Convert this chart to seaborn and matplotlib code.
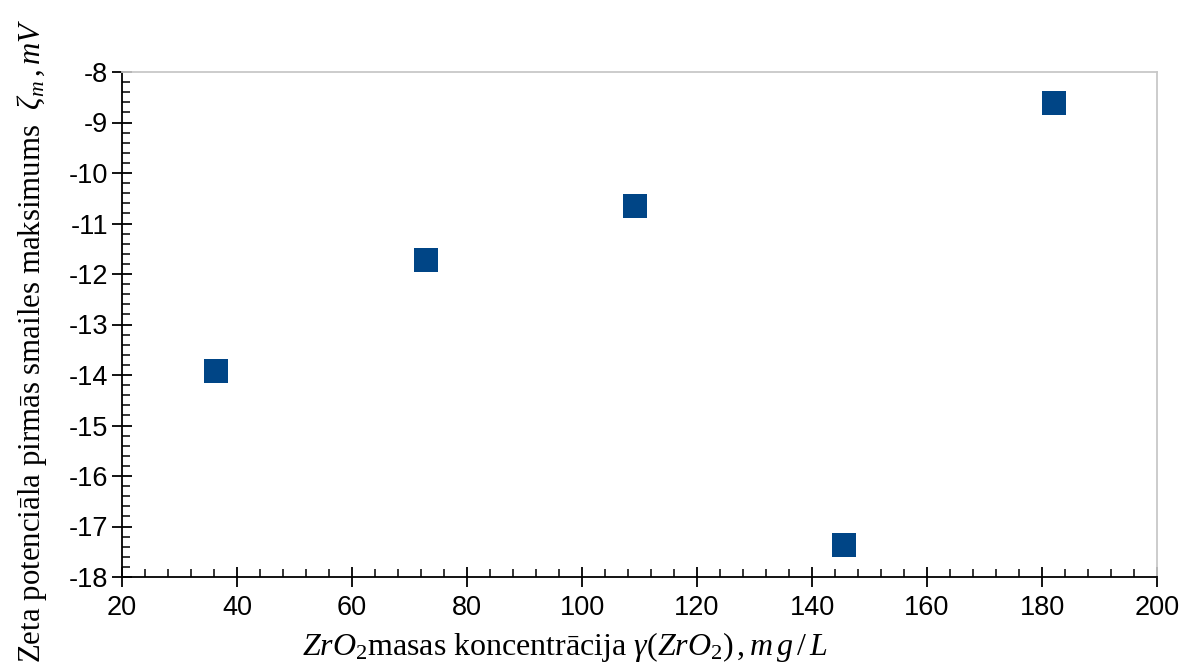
import matplotlib
matplotlib.use("Agg")
import matplotlib.pyplot as plt
import seaborn as sns
import pandas as pd
from matplotlib.ticker import MultipleLocator

concentration = [36.4, 72.8, 109.2, 145.6, 182.0]
zeta_max = [-13.92, -11.72, -10.65, -17.37, -8.62]
x_ticks = [20, 40, 60, 80, 100, 120, 140, 160, 180, 200]
y_ticks = [-8, -9, -10, -11, -12, -13, -14, -15, -16, -17, -18]

df = pd.DataFrame({"x": concentration, "y": zeta_max})

sns.set_style("white")
plt.rcParams['font.family'] = ['Liberation Sans', 'DejaVu Sans']
plt.rcParams['axes.unicode_minus'] = False
plt.rcParams['text.color'] = 'black'
plt.rcParams['xtick.color'] = 'black'
plt.rcParams['ytick.color'] = 'black'
plt.rcParams['axes.labelcolor'] = 'black'
plt.rcParams['mathtext.fontset'] = 'custom'
plt.rcParams['mathtext.rm'] = 'Liberation Serif'
plt.rcParams['mathtext.it'] = 'Liberation Serif:italic'

fig = plt.figure(figsize=(11.83, 6.72), dpi=100)
ax = fig.add_axes([122/1183, 1 - 577/672, (1157-122)/1183, (577-72)/672])

sns.scatterplot(data=df, x="x", y="y", ax=ax, marker="s", s=300,
                color="#004586", edgecolor="#004586", linewidth=0, zorder=3)

ax.set_xlim(20, 200)
ax.set_ylim(-18, -8)
ax.set_xticks(x_ticks)
ax.set_yticks(y_ticks)
ax.xaxis.set_minor_locator(MultipleLocator(4))
ax.yaxis.set_minor_locator(MultipleLocator(0.2))
ax.tick_params(axis='both', which='major', direction='inout', length=14,
               width=1.3, color='black', labelcolor='black', labelsize=19.5)
ax.tick_params(axis='x', which='major', pad=6)
ax.tick_params(axis='y', which='major', pad=3)
ax.tick_params(axis='both', which='minor', direction='in', length=6,
               width=1.1, color='black')
ax.tick_params(axis='x', which='both', bottom=True, top=False)
ax.tick_params(axis='y', which='both', left=True, right=False)

for side in ['left', 'bottom']:
    ax.spines[side].set_color('black')
    ax.spines[side].set_linewidth(1.3)
for side in ['top', 'right']:
    ax.spines[side].set_color('#c8c8c8')
    ax.spines[side].set_linewidth(1.3)

ax.set_xlabel(r"$ZrO_2$masas koncentrācija $\gamma(ZrO_2)\,,m\,g\,/\,L$",
              fontfamily='Liberation Serif', fontsize=23, color='black')
ax.set_ylabel(r"Zeta potenciāla pirmās smailes maksimums  $\zeta_m\,,mV$",
              fontfamily='Liberation Serif', fontsize=22.2, color='black')
ax.xaxis.set_label_coords((565 - 122) / 1035, -(647 - 577) / 505, transform=ax.transAxes)
ax.yaxis.set_label_coords(-(122 - 32) / 1035, (577 - 341) / 505, transform=ax.transAxes)
ax.xaxis.label.set_va('center')
ax.yaxis.label.set_va('center')

fig.savefig("out.png", dpi=100)
